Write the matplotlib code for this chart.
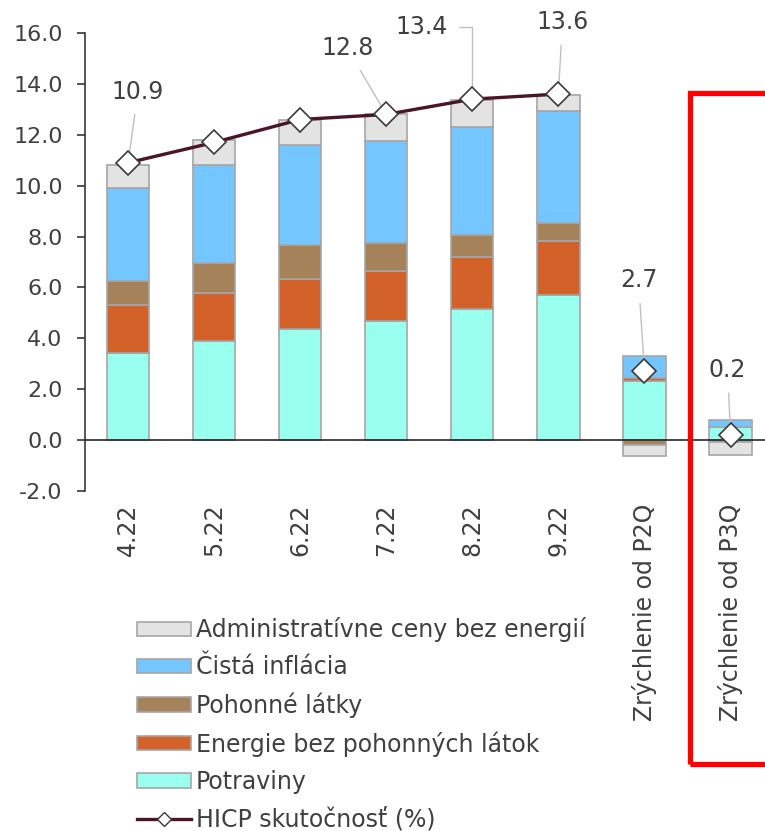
import matplotlib
matplotlib.use("Agg")
import matplotlib.pyplot as plt
from matplotlib.patches import Patch, Rectangle
from matplotlib.lines import Line2D
from matplotlib.ticker import FormatStrFormatter
import numpy as np

plt.rcParams["font.family"] = ["DejaVu Sans"]
plt.rcParams["axes.unicode_minus"] = False

# Categories and contributions (percentage points)
categories = ["4.22", "5.22", "6.22", "7.22", "8.22", "9.22",
              "Zrýchlenie od P2Q", "Zrýchlenie od P3Q"]
potraviny = [3.44, 3.91, 4.36, 4.69, 5.16, 5.71, 2.31, 0.50]
energie = [1.87, 1.86, 1.97, 1.96, 2.05, 2.11, 0.15, 0.02]
pohonne = [0.96, 1.20, 1.34, 1.08, 0.85, 0.70, -0.18, -0.08]
cista = [3.62, 3.86, 3.92, 4.02, 4.23, 4.40, 0.83, 0.26]
admin = [0.94, 0.95, 1.01, 1.05, 1.09, 0.66, -0.45, -0.50]
hicp = [10.9, 11.7, 12.6, 12.8, 13.4, 13.6, 2.7, 0.2]
labelled_points = [0, 3, 4, 5, 6, 7]

series_names = ["Potraviny", "Energie bez pohonných látok", "Pohonné látky",
                "Čistá inflácia", "Administratívne ceny bez energií"]
series_values = [potraviny, energie, pohonne, cista, admin]
series_colors = ["#99FFEE", "#D2622A", "#A5825A", "#73C6FF", "#E3E3E3"]
edge_color = "#A6A6A6"
text_color = "#404040"
line_color = "#4B1428"

W, H = 765, 831
fig = plt.figure(figsize=(W / 100, H / 100), dpi=100)
ax = fig.add_axes([85 / W, 1 - 491 / H, 680 / W, 458 / H])

x = np.arange(len(categories))
pos_base = np.zeros(len(x))
neg_base = np.zeros(len(x))
for vals, color, name in zip(series_values, series_colors, series_names):
    v = np.array(vals, dtype=float)
    base = np.where(v >= 0, pos_base, neg_base)
    ax.bar(x, v, bottom=base, width=0.49, color=color, edgecolor=edge_color,
           linewidth=1.2, zorder=2)
    pos_base += np.where(v >= 0, v, 0)
    neg_base += np.where(v < 0, v, 0)

ax.axhline(0, color="#262626", lw=1.2, zorder=2.5)

# HICP: monthly values joined by a line, accelerations shown as markers only
ax.plot(x[:6], hicp[:6], color=line_color, lw=2.4, zorder=3)
ax.plot(x, hicp, ls="none", marker="D", ms=12, mfc="white", mec="#3A3A3A",
        mew=1.2, zorder=4)

# Value labels with leader lines (offsets in pixels)
offsets = {0: (10, 71), 3: (-39, 66), 4: (-51, 72), 5: (4, 72), 6: (-6, 91), 7: (-3, 65)}
for i in labelled_points:
    dx, dy = offsets[i]
    conn = "angle,angleA=0,angleB=90,rad=0" if i == 4 else "arc3"
    ax.annotate(f"{hicp[i]:.1f}", xy=(x[i], hicp[i]), xytext=(dx, dy),
                textcoords="offset pixels", ha="center", va="center",
                fontsize=17, color=text_color, zorder=3.5,
                arrowprops=dict(arrowstyle="-", color="#C0C0C0", lw=1.0,
                                shrinkA=6, shrinkB=0, connectionstyle=conn))

ax.set_xlim(-0.5, 7.4)
ax.set_ylim(-2, 16)
ax.set_yticks(np.arange(-2, 16.1, 2))
ax.yaxis.set_major_formatter(FormatStrFormatter("%.1f"))
ax.set_xticks(x)
ax.set_xticklabels(categories, rotation=90, fontsize=17, color=text_color)
ax.tick_params(axis="x", length=0, pad=9)
ax.tick_params(axis="y", direction="out", length=6, width=1.1, pad=10,
               labelsize=16, labelcolor=text_color, color="#262626")
for side in ("top", "right", "bottom"):
    ax.spines[side].set_visible(False)
ax.spines["left"].set_color("#262626")
ax.spines["left"].set_linewidth(1.1)

# Legend
handles = [Patch(facecolor=series_colors[k], edgecolor=edge_color, linewidth=1.2)
           for k in (4, 3, 2, 1, 0)]
handles.append(Line2D([], [], color=line_color, lw=2.4, marker="D", ms=7,
                      mfc="white", mec="#3A3A3A", mew=1.0))
names = [series_names[k] for k in (4, 3, 2, 1, 0)] + ["HICP skutočnosť (%)"]
leg = fig.legend(handles, names, loc="upper left",
                 bbox_to_anchor=(137 / W, 1 - 617 / H), frameon=False,
                 fontsize=17, handlelength=2.29, handleheight=0.55,
                 handletextpad=0.2, labelspacing=0.56, borderpad=0,
                 borderaxespad=0)
for t in leg.get_texts():
    t.set_color(text_color)

# Highlight frame around the latest acceleration
fig.add_artist(Rectangle((690 / W, 1 - 764 / H), 100 / W, 671 / H,
                         transform=fig.transFigure, fill=False,
                         edgecolor="#FF0000", lw=3.8, zorder=10, clip_on=False))

fig.savefig("out.png", dpi=100)
